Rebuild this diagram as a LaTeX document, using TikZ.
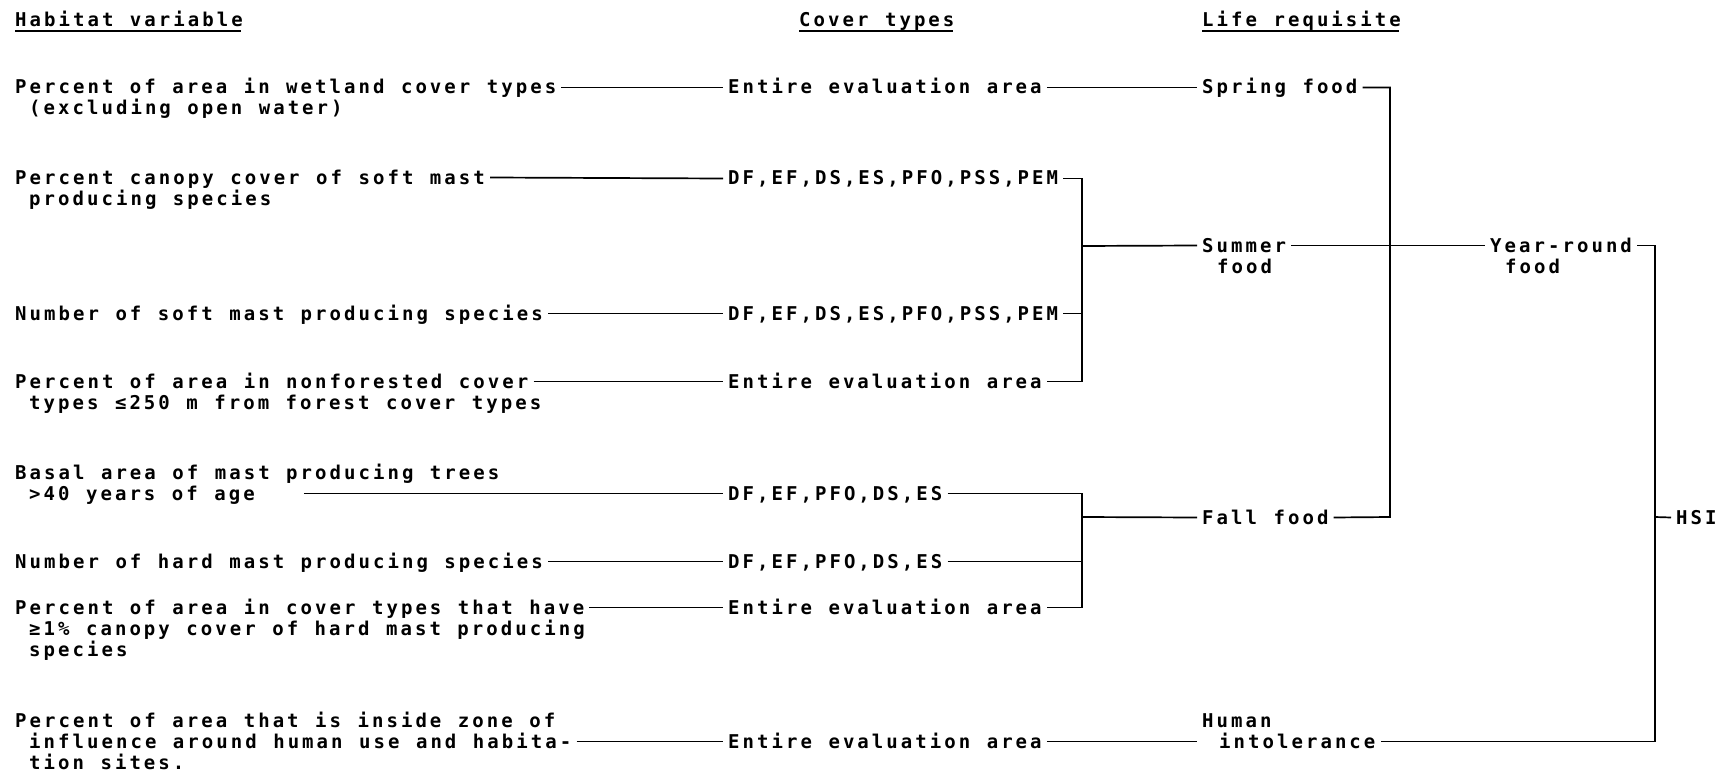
\documentclass[tikz,border=0pt]{standalone}
\usepackage{fontspec}
\newfontfamily\tw{DejaVu Sans Mono}[LetterSpace=16,WordSpace=1.14]
\begin{document}
\begin{tikzpicture}[x=1pt,y=-1pt,
  t/.style={anchor=base west, inner xsep=5pt, inner ysep=0pt, text height=13pt, text depth=0pt,
    font=\tw\bfseries\fontsize{19pt}{21pt}\selectfont},
  ln/.style={line width=1.7pt},
  hd/.style={t}]
\useasboundingbox (0,0) rectangle (1722,773);
% headers
\node[hd] (h1) at (10,27) {Habitat variable};
\node[hd] (h2) at (794,27) {Cover types};
\node[hd] (h3) at (1197,27) {Life requisite};
\foreach \h in {h1,h2,h3}
  \draw[line width=1.3pt] ([xshift=5pt,yshift=-4pt]\h.base west) -- ([xshift=-7pt,yshift=-4pt]\h.base east);
% habitat variables
\node[t] (v1)  at (10,94)  {Percent of area in wetland cover types};
\node[t] (v1b) at (24,115) {(excluding open water)};
\node[t] (v2)  at (10,184) {Percent canopy cover of soft mast};
\node[t] (v2b) at (24,205) {producing species};
\node[t] (v3)  at (10,320) {Number of soft mast producing species};
\node[t] (v4)  at (10,388) {Percent of area in nonforested cover};
\node[t] (v4b) at (24,409) {types ≤250 m from forest cover types};
\node[t] (v5)  at (10,479) {Basal area of mast producing trees};
\node[t] (v5b) at (24,500) {>40 years of age};
\node[t] (v6)  at (10,568) {Number of hard mast producing species};
\node[t] (v7)  at (10,614) {Percent of area in cover types that have};
\node[t] (v7b) at (24,635) {≥1\% canopy cover of hard mast producing};
\node[t] (v7c) at (24,656) {species};
\node[t] (v8)  at (10,727) {Percent of area that is inside zone of};
\node[t] (v8b) at (24,748) {influence around human use and habita-};
\node[t] (v8c) at (24,769) {tion sites.};
% cover types
\node[t] (c1) at (723,94)  {Entire evaluation area};
\node[t] (c2) at (723,185) {DF,EF,DS,ES,PFO,PSS,PEM};
\node[t] (c3) at (723,320) {DF,EF,DS,ES,PFO,PSS,PEM};
\node[t] (c4) at (723,388) {Entire evaluation area};
\node[t] (c5) at (723,500) {DF,EF,PFO,DS,ES};
\node[t] (c6) at (723,568) {DF,EF,PFO,DS,ES};
\node[t] (c7) at (723,614) {Entire evaluation area};
\node[t] (c8) at (723,748) {Entire evaluation area};
% life requisites
\node[t] (l1)  at (1197,94)  {Spring food};
\node[t] (l2)  at (1197,252) {Summer};
\node[t] (l2b) at (1212,273) {food};
\node[t] (l3)  at (1197,524) {Fall food};
\node[t] (l4)  at (1197,727) {Human};
\node[t] (l4b) at (1214,748) {intolerance};
\node[t] (y1)  at (1485,252) {Year-round};
\node[t] (y1b) at (1500,273) {food};
\node[t] (hsi) at (1671,524) {HSI};
% junctions
\coordinate (ja) at (1082,246);
\coordinate (jb) at (1082,517);
\coordinate (js) at (1390,517);
\coordinate (jy) at (1655,517);
% connectors
\draw[ln] (v1.east) -- (c1.west);
\draw[ln] (v2.east) -- (c2.west);
\draw[ln] (v3.east) -- (c3.west);
\draw[ln] (v4.east) -- (c4.west);
\draw[ln] ([xshift=44pt]v5b.east) -- (c5.west);
\draw[ln] (v6.east) -- (c6.west);
\draw[ln] (v7.east) -- (c7.west);
\draw[ln] (v8b.east) -- (c8.west);
\draw[ln] (c1.east) -- (l1.west);
\draw[ln] (c2.east) -| (ja) |- (c4.east);
\draw[ln] (c3.east) -- (c3.east -| ja);
\draw[ln] (ja) -- (l2.west);
\draw[ln] (c5.east) -| (jb) |- (c7.east);
\draw[ln] (c6.east) -- (c6.east -| jb);
\draw[ln] (jb) -- (l3.west);
\draw[ln] (c8.east) -- (l4b.west -| l4.west);
\draw[ln] (l1.east) -| (js) -- (l3.east);
\draw[ln] (l2.east) -- (y1.west);
\draw[ln] (y1.east) -| (jy) |- (l4b.east);
\draw[ln] (jy) -- (hsi.west);
\end{tikzpicture}
\end{document}
